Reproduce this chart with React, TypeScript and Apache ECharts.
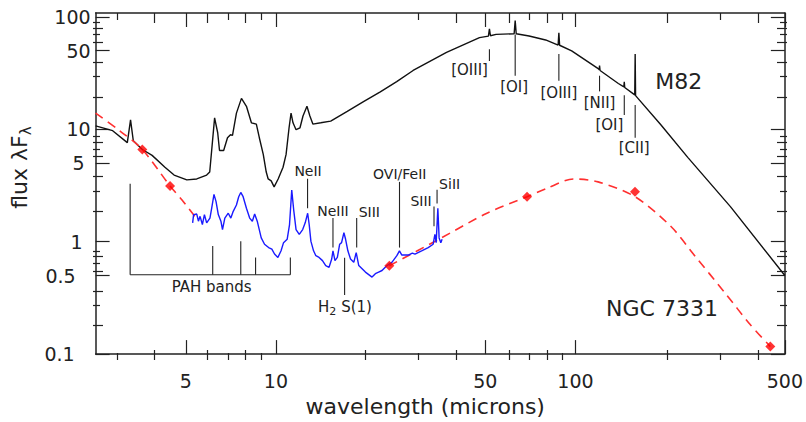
import React, { useEffect, useRef } from "react";
import * as echarts from "echarts";

// ---------- axis ranges & ticks ----------
const xRange = [2.5, 500];
const yRange = [0.1, 108];
const xTickValues = [3, 4, 5, 6, 7, 8, 9, 10, 20, 30, 40, 50, 60, 70, 80, 90, 100, 200, 300, 400, 500];
const xLabelValues = [5, 10, 50, 100, 500];
const yTickValues = [
  0.1, 0.2, 0.3, 0.4, 0.5, 0.6, 0.7, 0.8, 0.9, 1, 2, 3, 4, 5, 6, 7, 8, 9, 10,
  20, 30, 40, 50, 60, 70, 80, 90, 100,
];
const yLabelValues = [0.1, 0.5, 1, 5, 10, 50, 100];

// ---------- M82 spectrum (black) ----------
const m82Wavelength = [
  2.5, 2.85, 3.19, 3.27, 3.34, 3.58, 3.86, 4.26, 4.57, 5.04,
  5.44, 5.87, 6.01, 6.24, 6.39, 6.48, 6.69, 6.89, 7.05, 7.16,
  7.38, 7.67, 7.97, 8.28, 8.6, 8.8, 9.07, 9.28, 9.42, 9.64,
  9.86, 10.17, 10.56, 10.81, 11.06, 11.23, 11.4, 11.67, 12.03, 12.31,
  12.69, 12.98, 13.28, 14.11, 15.23, 17.3, 19.6, 22.3, 25.3, 28.7,
  37.1, 47.8, 51.2, 51.6, 52.0, 54.3, 62.4, 62.9, 63.4, 70.0,
  79.5, 87.5, 88.0, 88.5, 97.1, 119.4, 120.0, 120.3, 120.8, 139,
  145.0, 145.5, 146.0, 157.7, 158.2, 158.7, 193, 237, 329, 500,
];
const m82Flux = [
  10.7, 9.7, 7.6, 12.1, 7.9, 6.6, 5.85, 4.59, 3.91, 3.54,
  3.61, 3.91, 4.16, 12.6, 9.3, 6.47, 6.47, 8.4, 8.93, 8.8,
  13.9, 18.8, 16.0, 11.4, 11.1, 8.4, 5.97, 4.16, 3.61, 3.47,
  3.07, 3.61, 4.59, 5.97, 10.3, 13.9, 11.4, 9.9, 10.3, 13.1,
  16.0, 13.1, 11.1, 11.4, 11.8, 14.4, 17.6, 21.5, 26.5, 33.3,
  48.2, 65.2, 67.3, 78.2, 67.8, 69.7, 70.7, 92.5, 70.7, 67.4,
  62.2, 56.0, 72.1, 55.8, 49.8, 34.4, 33.8, 36.8, 33.3, 25.5,
  23.8, 26.4, 23.5, 20.2, 46.6, 19.9, 10.9, 5.62, 2.05, 0.5,
];

// ---------- NGC 7331 IRS spectrum (blue) ----------
const ngcWavelength = [
  5.27, 5.31, 5.44, 5.51, 5.58, 5.68, 5.77, 5.87, 6.02, 6.1,
  6.21, 6.31, 6.42, 6.55, 6.63, 6.75, 6.93, 7.07, 7.2, 7.38,
  7.51, 7.63, 7.77, 7.97, 8.17, 8.34, 8.49, 8.66, 8.93, 9.16,
  9.45, 9.69, 9.89, 10.15, 10.4, 10.6, 10.9, 11.1, 11.29, 11.46,
  11.67, 11.96, 12.28, 12.52, 12.76, 12.91, 13.08, 13.35, 13.59, 13.93,
  14.3, 14.66, 15.04, 15.35, 15.5, 15.74, 16.03, 16.32, 16.56, 16.86,
  17.08, 17.38, 17.74, 18.19, 18.53, 18.9, 19.89, 20.93, 21.47, 22.02,
  22.6, 23.48, 24.38, 25.33, 25.84, 26.32, 27.67, 28.53, 29.12, 30.64,
  32.23, 33.48, 33.93, 34.27, 34.71, 35.05, 35.51, 35.86,
];
const ngcFlux = [
  1.47, 1.74, 1.76, 1.52, 1.68, 1.42, 1.74, 1.47, 1.62, 1.98,
  2.63, 2.27, 1.74, 1.52, 1.28, 1.62, 1.79, 1.62, 1.86, 2.12,
  2.51, 2.74, 2.51, 1.98, 1.62, 1.52, 1.76, 1.52, 1.08, 0.949,
  0.886, 0.858, 0.776, 0.724, 0.829, 0.98, 1.05, 1.42, 2.87, 1.92,
  1.28, 1.16, 1.28, 1.47, 1.79, 1.42, 1.01, 0.829, 0.75, 0.724,
  0.678, 0.613, 0.592, 0.701, 0.829, 0.678, 0.724, 0.949, 0.98, 1.2,
  1.05, 0.829, 0.701, 0.655, 0.8, 0.613, 0.536, 0.484, 0.519, 0.536,
  0.554, 0.613, 0.655, 0.75, 0.829, 0.76, 0.76, 0.792, 0.776, 0.829,
  0.886, 0.949, 1.16, 0.98, 1.98, 1.08, 0.98, 1.05,
];

// ---------- NGC 7331 model (red dashed) ----------
const modelShortWavelength = [2.5, 3.0, 3.58, 4.43, 4.85, 5.36];
const modelShortFlux = [13.9, 9.74, 6.6, 3.13, 2.36, 1.68];
const modelLongWavelength = [23.9, 35.2, 50.4, 68.9, 79.6, 98.6, 119, 158, 208, 250, 314, 383, 447];
const modelLongFlux = [0.61, 1.06, 1.78, 2.51, 2.95, 3.61, 3.4, 2.51, 1.37, 0.75, 0.356, 0.183, 0.117];

// ---------- NGC 7331 photometry (red diamonds) ----------
const photWavelength = [3.58, 4.43, 23.9, 68.9, 158, 447];
const photFlux = [6.6, 3.13, 0.61, 2.51, 2.78, 0.117];

// ---------- line identifications: [wavelength, flux top, flux bottom] ----------
const m82LineMarks = [
  [51.6, 51.5, 40.5],
  [62.9, 69.7, 29.9],
  [88.0, 46.6, 27.0],
  [120.3, 29.9, 21.7],
  [145.5, 20.0, 13.4],
  [158.2, 16.4, 8.4],
];
const ngcLineMarks = [
  [12.75, 3.63, 1.98],
  [15.5, 1.62, 0.886],
  [18.6, 1.62, 0.886],
  [16.95, 0.72, 0.335],
  [25.85, 3.4, 0.886],
  [33.7, 2.05, 1.37],
  [34.5, 2.89, 2.18],
];
// PAH bands bracket: [wavelength, flux top]; all drop to pahBaseFlux
const pahBandMarks = [
  [3.26, 3.28],
  [6.15, 0.917],
  [7.63, 1.01],
  [8.55, 0.724],
  [11.17, 0.724],
];
const pahBaseFlux = 0.508;

// ---------- text labels: [text, wavelength, flux] (label centres) ----------
const m82LineLabels: [string, number, number][] = [
  ["[OIII]", 44.3, 33.7],
  ["[OI]", 62.4, 23.5],
  ["[OIII]", 88.0, 21.2],
  ["[NII]", 120.3, 17.0],
  ["[OI]", 129.8, 10.9],
  ["[CII]", 157, 6.87],
];
const ngcLineLabels: [string, number, number][] = [
  ["NeII", 12.8, 4.24],
  ["NeIII", 15.5, 1.89],
  ["SIII", 20.5, 1.82],
  ["OVI/FeII", 25.9, 3.99],
  ["SIII", 30.5, 2.32],
  ["SiII", 38.0, 3.26],
];
const smallLabels: [string, number, number][] = [
  ["PAH bands", 6.1, 0.394],
  ["{a|H}{s|2}{a| S(1)}", 17.0, 0.263],
];
const galaxyLabels: [string, number, number][] = [
  ["M82", 221, 26.5],
  ["NGC 7331", 194.4, 0.253],
];

// ---------- styling ----------
const FONT = '"DejaVu Sans", "Liberation Sans", Arial, sans-serif';
const INK = "#222222";
const lg = (v: number) => Math.log10(v);
const fmt = (v: number) => String(Number(Math.pow(10, v).toPrecision(3)));
const tickClass = (v: number) => {
  const m = Math.round(v / Math.pow(10, Math.floor(Math.log10(v) + 1e-9)));
  return m === 1 || m === 5 ? "long" : m % 2 === 0 ? "mid" : "short";
};
const tickLen: Record<string, number> = { long: 14, mid: 10, short: 7 };
const yLabelPad: Record<string, string> = { "100": "p0", "50": "p0", "10": "p0", "5": "p6", "1": "p8", "0.5": "p15", "0.1": "p16" };

const pairs = (w: number[], f: number[]) => w.map((x, i) => [lg(x), lg(f[i])]);

export default function App() {
  const ref = useRef<HTMLDivElement>(null);
  useEffect(() => {
    if (!ref.current) return;
    const chart = echarts.init(ref.current, null, { renderer: "svg" });
    const classes = ["long", "mid", "short"];
    const grid = classes.map(() => ({ left: 93, top: 13, width: 694, height: 347 }));
    const frame = { color: INK, width: 1.5 };
    const xAxis: any[] = [];
    const yAxis: any[] = [];
    classes.forEach((c, gi) => {
      const xt = xTickValues.filter((v) => tickClass(v) === c).map(lg);
      const yt = yTickValues.filter((v) => tickClass(v) === c).map(lg);
      ["bottom", "top"].forEach((pos) => {
        const main = gi === 0 && pos === "bottom";
        xAxis.push({
          type: "value",
          gridIndex: gi,
          position: pos,
          min: lg(xRange[0]),
          max: lg(xRange[1]),
          axisLine: { show: gi === 0, onZero: false, lineStyle: frame },
          axisTick: { show: true, inside: true, length: tickLen[c], customValues: xt, lineStyle: { color: INK, width: 1.2 } },
          axisLabel: main
            ? { show: true, customValues: xLabelValues.map(lg), formatter: (v: number) => fmt(v), margin: 17, fontSize: 19, fontFamily: FONT, color: INK }
            : { show: false },
          splitLine: { show: false },
          ...(main
            ? {
                name: "wavelength (microns)",
                nameLocation: "middle",
                nameGap: 38,
                nameTextStyle: { fontSize: 22, fontFamily: FONT, color: INK, padding: [0, 30, 0, 0] },
              }
            : {}),
        });
      });
      ["left", "right"].forEach((pos) => {
        const main = gi === 0 && pos === "left";
        yAxis.push({
          type: "value",
          gridIndex: gi,
          position: pos,
          min: lg(yRange[0]),
          max: lg(yRange[1]),
          axisLine: { show: gi === 0, onZero: false, lineStyle: frame },
          axisTick: { show: true, inside: true, length: tickLen[c], customValues: yt, lineStyle: { color: INK, width: 1.2 } },
          axisLabel: main
            ? {
                show: true,
                customValues: yLabelValues.map(lg),
                formatter: (v: number) => {
                  const t = fmt(v);
                  return `{${yLabelPad[t] || "p0"}|${t}}`;
                },
                margin: 5,
                fontSize: 19,
                fontFamily: FONT,
                color: INK,
                rich: {
                  p0: { fontSize: 19, fontFamily: FONT, color: INK },
                  p6: { fontSize: 19, fontFamily: FONT, color: INK, padding: [0, 6, 0, 0] },
                  p8: { fontSize: 19, fontFamily: FONT, color: INK, padding: [0, 8, 0, 0] },
                  p15: { fontSize: 19, fontFamily: FONT, color: INK, padding: [0, 15, 0, 0] },
                  p16: { fontSize: 19, fontFamily: FONT, color: INK, padding: [0, 16, 0, 0] },
                },
              }
            : { show: false },
          splitLine: { show: false },
          ...(main
            ? {
                name: "{a|flux λF}{s|λ}",
                nameLocation: "middle",
                nameRotate: 90,
                nameGap: 55,
                nameTextStyle: {
                  fontSize: 22,
                  fontFamily: FONT,
                  color: INK,
                  padding: [0, 0, 0, 32],
                  rich: {
                    a: { fontSize: 22, fontFamily: FONT, color: INK },
                    s: { fontSize: 15, fontFamily: FONT, color: INK, padding: [14, 0, 0, 0] },
                  },
                },
              }
            : {}),
        });
      });
    });

    const segments: number[][] = [];
    m82LineMarks.concat(ngcLineMarks).forEach(([w, t, b]) => segments.push([w, t, w, b]));
    pahBandMarks.forEach(([w, t]) => segments.push([w, t, w, pahBaseFlux]));
    segments.push([pahBandMarks[0][0], pahBaseFlux, pahBandMarks[pahBandMarks.length - 1][0], pahBaseFlux]);

    const subRich = {
      a: { fontSize: 15, fontFamily: FONT, color: INK },
      s: { fontSize: 11, fontFamily: FONT, color: INK, padding: [9, 0, 0, 0] },
    };
    const textSeries = (labels: [string, number, number][], fontSize: number) => ({
      type: "custom",
      xAxisIndex: 0,
      yAxisIndex: 0,
      silent: true,
      clip: false,
      z: 5,
      data: labels.map(([, w, f]) => [lg(w), lg(f)]),
      renderItem: (params: any, api: any) => {
        const p = api.coord([api.value(0), api.value(1)]);
        return {
          type: "text",
          x: p[0],
          y: p[1],
          style: {
            text: labels[params.dataIndex][0],
            fill: INK,
            fontSize,
            fontFamily: FONT,
            align: "center",
            verticalAlign: "middle",
            rich: subRich,
          },
        };
      },
    });

    const option: any = {
      animation: false,
      backgroundColor: "#ffffff",
      grid,
      xAxis,
      yAxis,
      series: [
        {
          type: "custom",
          xAxisIndex: 0,
          yAxisIndex: 0,
          silent: true,
          clip: false,
          z: 1,
          data: segments.map((s) => [lg(s[0]), lg(s[1]), lg(s[2]), lg(s[3])]),
          encode: { x: [0, 2], y: [1, 3] },
          renderItem: (params: any, api: any) => {
            const p1 = api.coord([api.value(0), api.value(1)]);
            const p2 = api.coord([api.value(2), api.value(3)]);
            return {
              type: "line",
              shape: { x1: p1[0], y1: p1[1], x2: p2[0], y2: p2[1] },
              style: { stroke: INK, lineWidth: 1.1 },
            };
          },
        },
        {
          type: "line",
          name: "M82",
          data: pairs(m82Wavelength, m82Flux),
          showSymbol: false,
          lineStyle: { color: "#111111", width: 1.4 },
          z: 2,
        },
        {
          type: "line",
          name: "NGC 7331 model (short)",
          data: pairs(modelShortWavelength, modelShortFlux),
          showSymbol: false,
          smooth: 0.3,
          lineStyle: { color: "#ff3030", width: 1.6, type: [9, 6] },
          z: 2,
        },
        {
          type: "line",
          name: "NGC 7331 model (long)",
          data: pairs(modelLongWavelength, modelLongFlux),
          showSymbol: false,
          smooth: 0.3,
          lineStyle: { color: "#ff3030", width: 1.6, type: [9, 6] },
          z: 2,
        },
        {
          type: "line",
          name: "NGC 7331",
          data: pairs(ngcWavelength, ngcFlux),
          showSymbol: false,
          lineStyle: { color: "#1a1aff", width: 1.4 },
          z: 3,
        },
        {
          type: "scatter",
          name: "NGC 7331 photometry",
          data: pairs(photWavelength, photFlux),
          symbol: "diamond",
          symbolSize: 10,
          itemStyle: { color: "#ff0000" },
          z: 4,
        },
        textSeries(m82LineLabels, 15),
        textSeries(ngcLineLabels, 14),
        textSeries(smallLabels, 15),
        textSeries(galaxyLabels, 22),
      ],
    };
    chart.setOption(option);
    return () => chart.dispose();
  }, []);
  return (
    <div
      ref={ref}
      style={{ position: "fixed", left: 0, top: 0, width: 806, height: 422, background: "#fff" }}
    />
  );
}
